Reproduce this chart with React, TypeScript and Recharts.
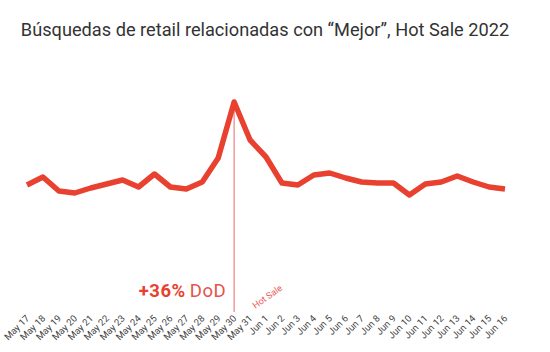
import React from 'react';
import { LineChart, Line, XAxis, YAxis, ReferenceLine } from 'recharts';

const days = [
  'May 17', 'May 18', 'May 19', 'May 20', 'May 21', 'May 22', 'May 23', 'May 24',
  'May 25', 'May 26', 'May 27', 'May 28', 'May 29', 'May 30', 'May 31',
  'Jun 1', 'Jun 2', 'Jun 3', 'Jun 4', 'Jun 5', 'Jun 6', 'Jun 7', 'Jun 8',
  'Jun 9', 'Jun 10', 'Jun 11', 'Jun 12', 'Jun 13', 'Jun 14', 'Jun 15', 'Jun 16',
];

// relative search interest (no axis shown in the original)
const searches = [
  127, 135, 121, 119, 124, 128, 132, 125, 138, 125, 123, 130, 154, 210, 172,
  155, 129, 127, 137, 139, 134, 130, 129, 129, 117, 128, 130, 136, 130, 125, 123,
];

const hotSaleDay = 'May 30';
const lift = '+36%';

const data = days.map((d, i) => ({ day: d, value: searches[i] }));

const RED = '#e9412f';

function DayTick(props: any) {
  const { x, y, payload } = props;
  return (
    <g transform={`translate(${x + 3},${y - 1})`}>
      <text
        textAnchor="end"
        transform="rotate(-45)"
        fontSize={9.5}
        fill="#444"
        fontFamily="Roboto, Arial, sans-serif"
      >
        {payload.value}
      </text>
    </g>
  );
}

function HotSaleLabel(props: any) {
  const { viewBox } = props;
  const { x, y, height } = viewBox;
  const bottom = y + height;
  return (
    <g fontFamily="Roboto, Arial, sans-serif">
      <text x={x - 8} y={bottom - 15} textAnchor="end" fontSize={18.5} letterSpacing={0.5} fill={RED}>
        <tspan fontWeight={700}>{lift}</tspan>
        <tspan dx={4} fill="#e5534b">DoD</tspan>
      </text>
      <text
        x={0}
        y={0}
        fontSize={9}
        fill="#ea5a5a"
        transform={`translate(${x + 21},${bottom - 3}) rotate(-35)`}
      >
        Hot Sale
      </text>
    </g>
  );
}

export default function App() {
  return (
    <div style={{ position: 'absolute', left: 0, top: 0, width: 550, height: 352, background: '#fff' }}>
      <div
        style={{
          position: 'absolute',
          left: 0,
          top: 19,
          width: 530,
          textAlign: 'center',
          fontFamily: 'Roboto, Arial, sans-serif',
          fontSize: 18.2,
          color: '#333',
        }}
      >
        Búsquedas de retail relacionadas con “Mejor”, Hot Sale 2022
      </div>
      <LineChart
        width={550}
        height={352}
        data={data}
        margin={{ top: 100, right: 45, left: 27, bottom: 0 }}
      >
        <XAxis
          dataKey="day"
          interval={0}
          axisLine={false}
          tickLine={false}
          height={40}
          tick={<DayTick />}
        />
        <YAxis hide domain={[0, 212]} />
        <ReferenceLine
          x={hotSaleDay}
          stroke="#f29a9a"
          strokeWidth={1.5}
          label={<HotSaleLabel />}
        />
        <Line
          type="linear"
          dataKey="value"
          stroke={RED}
          strokeWidth={5.5}
          strokeLinejoin="round"
          dot={false}
          isAnimationActive={false}
        />
      </LineChart>
    </div>
  );
}
